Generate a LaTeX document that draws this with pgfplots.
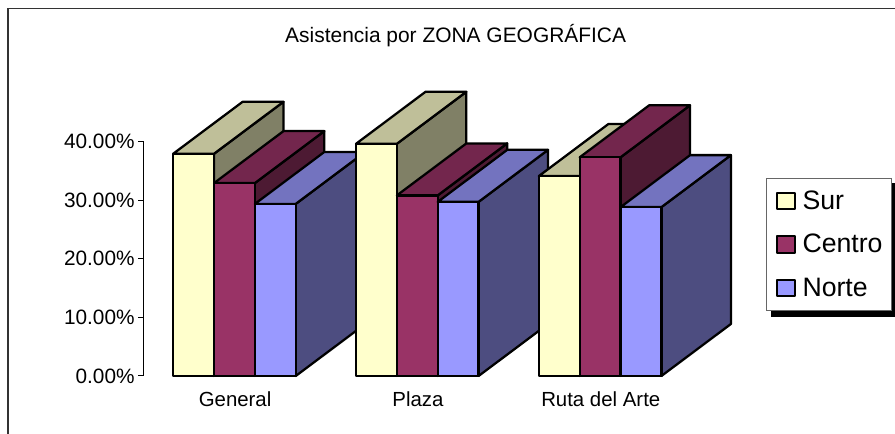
\documentclass[border=0pt]{standalone}
\usepackage{fontspec}
\setmainfont{Liberation Sans}
\usepackage{pgfplots}
\pgfplotsset{compat=1.18}
\definecolor{surF}{HTML}{FFFFCC}
\definecolor{surT}{HTML}{BFBF99}
\definecolor{surS}{HTML}{808066}
\definecolor{cenF}{HTML}{993366}
\definecolor{cenT}{HTML}{73264D}
\definecolor{cenS}{HTML}{4D1A33}
\definecolor{norF}{HTML}{9999FF}
\definecolor{norT}{HTML}{7373BF}
\definecolor{norS}{HTML}{4D4D80}
% one 3d column: left edge, value, colour prefix. depth is 0.38 in x, 8.87 in y
\newcommand{\col}[3]{%
  \pgfmathsetmacro{\xa}{#1}%
  \pgfmathsetmacro{\xb}{#1+0.2233}%
  \pgfmathsetmacro{\xc}{#1+0.2233+0.38}%
  \pgfmathsetmacro{\xd}{#1+0.38}%
  \pgfmathsetmacro{\yt}{#2+8.87}%
  \addplot[forget plot, draw=black, fill=#3S] coordinates {(\xb,0) (\xc,8.87) (\xc,\yt) (\xb,#2)} --cycle;
  \addplot[forget plot, draw=black, fill=#3T] coordinates {(\xa,#2) (\xb,#2) (\xc,\yt) (\xd,\yt)} --cycle;
  \addplot[forget plot, draw=black, fill=#3F] coordinates {(\xa,0) (\xb,0) (\xb,#2) (\xa,#2)} --cycle;
}
\begin{document}
\begin{tikzpicture}
\path[use as bounding box] (0,0) rectangle (671.25pt,325.5pt);
\draw[black!80, line width=0.8pt] (6pt,0) -- (6pt,318.9pt) -- (671.25pt,318.9pt);
% legend box and its shadow
\fill[black] (578.25pt,88pt) rectangle (671.25pt,188.25pt);
\draw[black!60, line width=0.6pt, fill=white] (574.5pt,92.8pt) rectangle (668.25pt,192pt);
\begin{axis}[
  at={(107.25pt,43.5pt)}, anchor=south west,
  scale only axis, width=411.4pt, height=175.9pt,
  xmin=-0.5, xmax=2.5, ymin=0, ymax=40,
  clip=false,
  axis y line*=left, axis x line*=bottom,
  axis line style={-, line width=0.75pt},
  x axis line style={draw=none},
  xtick={0,1,2}, xticklabels={General,Plaza,Ruta del Arte},
  x tick style={draw=none},
  ytick={0,10,20,30,40},
  y tick style={black, line width=0.75pt},
  tick align=outside, major tick length=3.75pt,
  yticklabel style={font=\fontsize{15.6}{18}\selectfont, xshift=1pt},
  xticklabel style={font=\fontsize{15.3}{18}\selectfont, yshift=-4.5pt, xshift=0.5pt},
  /pgf/number format/assume math mode=true,
  yticklabel={\pgfmathprintnumber[fixed,fixed zerofill,precision=2]{\tick}\%},
  every axis plot/.append style={line width=1.7pt, line join=round},
  legend cell align=left,
  legend image code/.code={\draw[draw=black, line width=1.5pt, #1] (0,-6.25pt) rectangle (13.5pt,6.25pt); \path[draw=none, fill=none] (0,0) -- (17pt,0);},
  legend style={at={(axis cs:2.947,32.55)}, anchor=north west,
    draw=none, fill=none,
    font=\fontsize{20}{23}\selectfont,
    row sep=13.2pt, inner xsep=2pt, inner ysep=2pt},
]
\col{-0.335}{37.9}{sur}
\col{-0.1115}{32.9}{cen}
\col{0.112}{29.35}{nor}
\col{0.665}{39.6}{sur}
\col{0.8885}{30.8}{cen}
\col{1.112}{29.7}{nor}
\col{1.665}{34.1}{sur}
\col{1.8885}{37.3}{cen}
\col{2.112}{28.8}{nor}
\addlegendimage{fill=surF}\addlegendentry{Sur}
\addlegendimage{fill=cenF}\addlegendentry{Centro}
\addlegendimage{fill=norF}\addlegendentry{Norte}
\node[font=\fontsize{15.7}{18}\selectfont, anchor=center] at (axis cs:1.21,58.0) {Asistencia por ZONA GEOGRÁFICA};
\end{axis}
\end{tikzpicture}
\end{document}
